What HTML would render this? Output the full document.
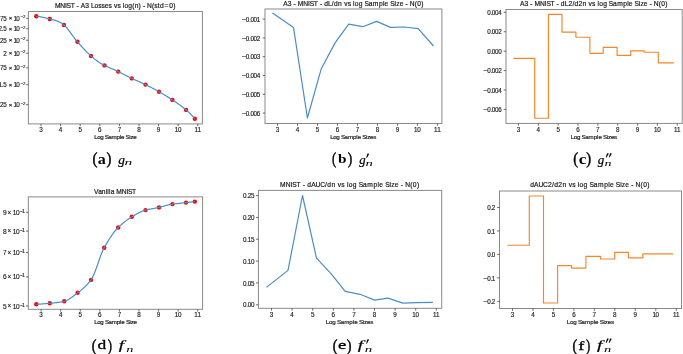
<!DOCTYPE html>
<html><head><meta charset="utf-8"><style>html,body{margin:0;padding:0;background:#fff;width:683px;height:354px;overflow:hidden}svg{display:block}text{font-family:"Liberation Sans",sans-serif;stroke:#1a1a1a;stroke-width:0.15px}.t{stroke-width:0.2px}.l{stroke-width:0.18px}</style></head><body><div style="will-change:transform;width:683px;height:354px">
<svg width="683" height="354" viewBox="0 0 683 354">
<rect width="683" height="354" fill="#fff"/>
<rect x="28.4" y="11.5" width="174.00" height="112.40" fill="none" stroke="#8a8a8a" stroke-width="1.0"/>
<line x1="41.00" y1="123.9" x2="41.00" y2="126.2" stroke="#444" stroke-width="0.8"/>
<text x="41.00" y="132.00" font-size="6.3" fill="#1a1a1a" text-anchor="middle">3</text>
<line x1="60.60" y1="123.9" x2="60.60" y2="126.2" stroke="#444" stroke-width="0.8"/>
<text x="60.60" y="132.00" font-size="6.3" fill="#1a1a1a" text-anchor="middle">4</text>
<line x1="80.20" y1="123.9" x2="80.20" y2="126.2" stroke="#444" stroke-width="0.8"/>
<text x="80.20" y="132.00" font-size="6.3" fill="#1a1a1a" text-anchor="middle">5</text>
<line x1="99.80" y1="123.9" x2="99.80" y2="126.2" stroke="#444" stroke-width="0.8"/>
<text x="99.80" y="132.00" font-size="6.3" fill="#1a1a1a" text-anchor="middle">6</text>
<line x1="119.40" y1="123.9" x2="119.40" y2="126.2" stroke="#444" stroke-width="0.8"/>
<text x="119.40" y="132.00" font-size="6.3" fill="#1a1a1a" text-anchor="middle">7</text>
<line x1="139.00" y1="123.9" x2="139.00" y2="126.2" stroke="#444" stroke-width="0.8"/>
<text x="139.00" y="132.00" font-size="6.3" fill="#1a1a1a" text-anchor="middle">8</text>
<line x1="158.60" y1="123.9" x2="158.60" y2="126.2" stroke="#444" stroke-width="0.8"/>
<text x="158.60" y="132.00" font-size="6.3" fill="#1a1a1a" text-anchor="middle">9</text>
<line x1="178.20" y1="123.9" x2="178.20" y2="126.2" stroke="#444" stroke-width="0.8"/>
<text x="176.62 179.77" y="132.00" font-size="6.3" fill="#1a1a1a" text-anchor="middle">10</text>
<line x1="197.80" y1="123.9" x2="197.80" y2="126.2" stroke="#444" stroke-width="0.8"/>
<text x="196.22 199.37" y="132.00" font-size="6.3" fill="#1a1a1a" text-anchor="middle">11</text>
<line x1="26.099999999999998" y1="18.30" x2="28.4" y2="18.30" stroke="#444" stroke-width="0.8"/>
<line x1="26.099999999999998" y1="28.74" x2="28.4" y2="28.74" stroke="#444" stroke-width="0.8"/>
<line x1="26.099999999999998" y1="40.29" x2="28.4" y2="40.29" stroke="#444" stroke-width="0.8"/>
<line x1="26.099999999999998" y1="53.20" x2="28.4" y2="53.20" stroke="#444" stroke-width="0.8"/>
<line x1="26.099999999999998" y1="67.84" x2="28.4" y2="67.84" stroke="#444" stroke-width="0.8"/>
<line x1="26.099999999999998" y1="84.73" x2="28.4" y2="84.73" stroke="#444" stroke-width="0.8"/>
<line x1="26.099999999999998" y1="104.71" x2="28.4" y2="104.71" stroke="#444" stroke-width="0.8"/>
<text x="-2.84 -0.51 1.83 4.95" y="20.75" font-size="6.3" fill="#1a1a1a" text-anchor="middle">2.75</text>
<text x="10.45" y="20.45" font-size="5.984999999999999" fill="#1a1a1a" text-anchor="middle">×</text>
<text x="15.37 17.92" y="20.75" font-size="6.3" fill="#1a1a1a" text-anchor="middle">10</text>
<text x="22.06 24.11" y="18.15" font-size="4.4" fill="#1a1a1a" text-anchor="middle">−2</text>
<text x="0.27 2.61 4.94" y="31.20" font-size="6.3" fill="#1a1a1a" text-anchor="middle">2.5</text>
<text x="10.45" y="30.90" font-size="5.984999999999999" fill="#1a1a1a" text-anchor="middle">×</text>
<text x="15.37 17.92" y="31.20" font-size="6.3" fill="#1a1a1a" text-anchor="middle">10</text>
<text x="22.06 24.11" y="28.60" font-size="4.4" fill="#1a1a1a" text-anchor="middle">−2</text>
<text x="-2.84 -0.51 1.83 4.95" y="42.75" font-size="6.3" fill="#1a1a1a" text-anchor="middle">2.25</text>
<text x="10.45" y="42.45" font-size="5.984999999999999" fill="#1a1a1a" text-anchor="middle">×</text>
<text x="15.37 17.92" y="42.75" font-size="6.3" fill="#1a1a1a" text-anchor="middle">10</text>
<text x="22.06 24.11" y="40.15" font-size="4.4" fill="#1a1a1a" text-anchor="middle">−2</text>
<text x="4.95" y="55.66" font-size="6.3" fill="#1a1a1a" text-anchor="middle">2</text>
<text x="10.45" y="55.36" font-size="5.984999999999999" fill="#1a1a1a" text-anchor="middle">×</text>
<text x="15.37 17.92" y="55.66" font-size="6.3" fill="#1a1a1a" text-anchor="middle">10</text>
<text x="22.06 24.11" y="53.06" font-size="4.4" fill="#1a1a1a" text-anchor="middle">−2</text>
<text x="-2.84 -0.51 1.83 4.95" y="70.29" font-size="6.3" fill="#1a1a1a" text-anchor="middle">1.75</text>
<text x="10.45" y="69.99" font-size="5.984999999999999" fill="#1a1a1a" text-anchor="middle">×</text>
<text x="15.37 17.92" y="70.29" font-size="6.3" fill="#1a1a1a" text-anchor="middle">10</text>
<text x="22.06 24.11" y="67.69" font-size="4.4" fill="#1a1a1a" text-anchor="middle">−2</text>
<text x="0.27 2.61 4.94" y="87.19" font-size="6.3" fill="#1a1a1a" text-anchor="middle">1.5</text>
<text x="10.45" y="86.89" font-size="5.984999999999999" fill="#1a1a1a" text-anchor="middle">×</text>
<text x="15.37 17.92" y="87.19" font-size="6.3" fill="#1a1a1a" text-anchor="middle">10</text>
<text x="22.06 24.11" y="84.59" font-size="4.4" fill="#1a1a1a" text-anchor="middle">−2</text>
<text x="-2.84 -0.51 1.83 4.95" y="107.17" font-size="6.3" fill="#1a1a1a" text-anchor="middle">1.25</text>
<text x="10.45" y="106.87" font-size="5.984999999999999" fill="#1a1a1a" text-anchor="middle">×</text>
<text x="15.37 17.92" y="107.17" font-size="6.3" fill="#1a1a1a" text-anchor="middle">10</text>
<text x="22.06 24.11" y="104.57" font-size="4.4" fill="#1a1a1a" text-anchor="middle">−2</text>
<circle cx="36.30" cy="16.20" r="2.2" fill="#ff0000"/>
<circle cx="49.80" cy="19.00" r="2.2" fill="#ff0000"/>
<circle cx="63.90" cy="24.90" r="2.2" fill="#ff0000"/>
<circle cx="77.40" cy="41.80" r="2.2" fill="#ff0000"/>
<circle cx="91.00" cy="56.00" r="2.2" fill="#ff0000"/>
<circle cx="104.50" cy="65.40" r="2.2" fill="#ff0000"/>
<circle cx="118.20" cy="71.60" r="2.2" fill="#ff0000"/>
<circle cx="131.80" cy="78.40" r="2.2" fill="#ff0000"/>
<circle cx="145.50" cy="84.60" r="2.2" fill="#ff0000"/>
<circle cx="159.00" cy="91.70" r="2.2" fill="#ff0000"/>
<circle cx="172.40" cy="99.90" r="2.2" fill="#ff0000"/>
<circle cx="186.10" cy="109.90" r="2.2" fill="#ff0000"/>
<circle cx="194.80" cy="118.80" r="2.2" fill="#ff0000"/>
<polyline points="36.30,16.20 36.62,16.23 36.94,16.27 37.25,16.31 37.57,16.35 37.89,16.39 38.21,16.44 38.52,16.48 38.84,16.53 39.16,16.59 39.48,16.64 39.79,16.69 40.11,16.75 40.43,16.81 40.75,16.87 41.06,16.93 41.38,16.99 41.70,17.06 42.02,17.13 42.34,17.19 42.65,17.26 42.97,17.33 43.29,17.40 43.61,17.48 43.92,17.55 44.24,17.62 44.56,17.70 44.88,17.77 45.19,17.85 45.51,17.93 45.83,18.01 46.15,18.08 46.46,18.16 46.78,18.24 47.10,18.32 47.42,18.40 47.73,18.48 48.05,18.56 48.37,18.64 48.69,18.72 49.01,18.80 49.32,18.88 49.64,18.96 49.96,19.04 50.28,19.12 50.59,19.20 50.91,19.27 51.23,19.35 51.55,19.43 51.86,19.50 52.18,19.58 52.50,19.66 52.82,19.74 53.13,19.82 53.45,19.90 53.77,19.98 54.09,20.06 54.41,20.15 54.72,20.24 55.04,20.33 55.36,20.42 55.68,20.52 55.99,20.62 56.31,20.73 56.63,20.84 56.95,20.95 57.26,21.06 57.58,21.18 57.90,21.31 58.22,21.44 58.53,21.58 58.85,21.72 59.17,21.87 59.49,22.02 59.81,22.18 60.12,22.34 60.44,22.52 60.76,22.70 61.08,22.88 61.39,23.08 61.71,23.28 62.03,23.49 62.35,23.71 62.66,23.93 62.98,24.17 63.30,24.41 63.62,24.67 63.93,24.93 64.25,25.20 64.57,25.49 64.89,25.79 65.20,26.11 65.52,26.44 65.84,26.78 66.16,27.13 66.48,27.48 66.79,27.85 67.11,28.23 67.43,28.62 67.75,29.02 68.06,29.42 68.38,29.83 68.70,30.24 69.02,30.67 69.33,31.09 69.65,31.52 69.97,31.96 70.29,32.40 70.60,32.84 70.92,33.28 71.24,33.72 71.56,34.17 71.88,34.61 72.19,35.06 72.51,35.50 72.83,35.95 73.15,36.39 73.46,36.83 73.78,37.26 74.10,37.69 74.42,38.12 74.73,38.54 75.05,38.96 75.37,39.37 75.69,39.77 76.00,40.16 76.32,40.55 76.64,40.93 76.96,41.30 77.27,41.66 77.59,42.01 77.91,42.36 78.23,42.72 78.55,43.07 78.86,43.42 79.18,43.77 79.50,44.13 79.82,44.48 80.13,44.83 80.45,45.18 80.77,45.53 81.09,45.89 81.40,46.24 81.72,46.59 82.04,46.93 82.36,47.28 82.67,47.63 82.99,47.97 83.31,48.32 83.63,48.66 83.95,49.00 84.26,49.34 84.58,49.68 84.90,50.02 85.22,50.35 85.53,50.69 85.85,51.02 86.17,51.34 86.49,51.67 86.80,51.99 87.12,52.32 87.44,52.63 87.76,52.95 88.07,53.26 88.39,53.57 88.71,53.88 89.03,54.19 89.35,54.49 89.66,54.78 89.98,55.08 90.30,55.37 90.62,55.66 90.93,55.94 91.25,56.22 91.57,56.50 91.89,56.77 92.20,57.05 92.52,57.32 92.84,57.58 93.16,57.85 93.47,58.11 93.79,58.37 94.11,58.63 94.43,58.88 94.74,59.14 95.06,59.38 95.38,59.63 95.70,59.87 96.02,60.12 96.33,60.35 96.65,60.59 96.97,60.82 97.29,61.05 97.60,61.28 97.92,61.50 98.24,61.72 98.56,61.94 98.87,62.15 99.19,62.36 99.51,62.57 99.83,62.77 100.14,62.97 100.46,63.17 100.78,63.37 101.10,63.56 101.42,63.75 101.73,63.93 102.05,64.11 102.37,64.29 102.69,64.47 103.00,64.64 103.32,64.81 103.64,64.97 103.96,65.13 104.27,65.29 104.59,65.44 104.91,65.60 105.23,65.75 105.54,65.90 105.86,66.04 106.18,66.19 106.50,66.34 106.82,66.48 107.13,66.63 107.45,66.77 107.77,66.91 108.09,67.05 108.40,67.19 108.72,67.33 109.04,67.47 109.36,67.61 109.67,67.75 109.99,67.89 110.31,68.03 110.63,68.17 110.94,68.31 111.26,68.44 111.58,68.58 111.90,68.72 112.21,68.86 112.53,69.00 112.85,69.14 113.17,69.28 113.49,69.42 113.80,69.56 114.12,69.70 114.44,69.84 114.76,69.98 115.07,70.13 115.39,70.27 115.71,70.42 116.03,70.56 116.34,70.71 116.66,70.86 116.98,71.01 117.30,71.16 117.61,71.31 117.93,71.47 118.25,71.62 118.57,71.78 118.89,71.94 119.20,72.10 119.52,72.25 119.84,72.41 120.16,72.57 120.47,72.73 120.79,72.89 121.11,73.05 121.43,73.21 121.74,73.37 122.06,73.53 122.38,73.69 122.70,73.85 123.01,74.01 123.33,74.17 123.65,74.33 123.97,74.50 124.28,74.66 124.60,74.82 124.92,74.98 125.24,75.14 125.56,75.30 125.87,75.46 126.19,75.62 126.51,75.78 126.83,75.94 127.14,76.10 127.46,76.26 127.78,76.42 128.10,76.58 128.41,76.74 128.73,76.90 129.05,77.05 129.37,77.21 129.68,77.37 130.00,77.52 130.32,77.68 130.64,77.84 130.96,77.99 131.27,78.15 131.59,78.30 131.91,78.45 132.23,78.60 132.54,78.75 132.86,78.90 133.18,79.05 133.50,79.20 133.81,79.35 134.13,79.49 134.45,79.64 134.77,79.78 135.08,79.93 135.40,80.07 135.72,80.21 136.04,80.35 136.36,80.49 136.67,80.63 136.99,80.77 137.31,80.91 137.63,81.05 137.94,81.19 138.26,81.33 138.58,81.47 138.90,81.61 139.21,81.75 139.53,81.89 139.85,82.03 140.17,82.17 140.48,82.31 140.80,82.45 141.12,82.59 141.44,82.73 141.75,82.87 142.07,83.02 142.39,83.16 142.71,83.30 143.03,83.45 143.34,83.59 143.66,83.74 143.98,83.88 144.30,84.03 144.61,84.18 144.93,84.33 145.25,84.48 145.57,84.63 145.88,84.78 146.20,84.94 146.52,85.09 146.84,85.25 147.15,85.40 147.47,85.56 147.79,85.72 148.11,85.88 148.43,86.04 148.74,86.20 149.06,86.36 149.38,86.52 149.70,86.68 150.01,86.85 150.33,87.01 150.65,87.17 150.97,87.34 151.28,87.51 151.60,87.67 151.92,87.84 152.24,88.01 152.55,88.18 152.87,88.35 153.19,88.51 153.51,88.68 153.83,88.86 154.14,89.03 154.46,89.20 154.78,89.37 155.10,89.54 155.41,89.72 155.73,89.89 156.05,90.06 156.37,90.24 156.68,90.41 157.00,90.59 157.32,90.76 157.64,90.94 157.95,91.12 158.27,91.29 158.59,91.47 158.91,91.65 159.22,91.83 159.54,92.00 159.86,92.19 160.18,92.37 160.50,92.55 160.81,92.73 161.13,92.92 161.45,93.10 161.77,93.29 162.08,93.48 162.40,93.66 162.72,93.85 163.04,94.04 163.35,94.23 163.67,94.43 163.99,94.62 164.31,94.81 164.62,95.00 164.94,95.20 165.26,95.39 165.58,95.59 165.90,95.79 166.21,95.98 166.53,96.18 166.85,96.38 167.17,96.58 167.48,96.78 167.80,96.98 168.12,97.18 168.44,97.38 168.75,97.58 169.07,97.78 169.39,97.98 169.71,98.18 170.02,98.38 170.34,98.59 170.66,98.79 170.98,98.99 171.29,99.19 171.61,99.40 171.93,99.60 172.25,99.80 172.57,100.01 172.88,100.21 173.20,100.42 173.52,100.62 173.84,100.83 174.15,101.04 174.47,101.25 174.79,101.47 175.11,101.68 175.42,101.90 175.74,102.11 176.06,102.33 176.38,102.55 176.69,102.77 177.01,102.99 177.33,103.22 177.65,103.44 177.97,103.67 178.28,103.90 178.60,104.13 178.92,104.36 179.24,104.59 179.55,104.82 179.87,105.06 180.19,105.29 180.51,105.53 180.82,105.77 181.14,106.01 181.46,106.25 181.78,106.49 182.09,106.73 182.41,106.98 182.73,107.22 183.05,107.47 183.37,107.72 183.68,107.97 184.00,108.22 184.32,108.47 184.64,108.72 184.95,108.97 185.27,109.23 185.59,109.49 185.91,109.74 186.22,110.00 186.54,110.27 186.86,110.54 187.18,110.81 187.49,111.09 187.81,111.38 188.13,111.67 188.45,111.97 188.76,112.28 189.08,112.58 189.40,112.90 189.72,113.21 190.04,113.54 190.35,113.86 190.67,114.19 190.99,114.53 191.31,114.87 191.62,115.21 191.94,115.55 192.26,115.90 192.58,116.26 192.89,116.61 193.21,116.97 193.53,117.33 193.85,117.70 194.16,118.06 194.48,118.43 194.80,118.80" fill="none" stroke="#4a8ec6" stroke-width="1.2" stroke-linejoin="round"/>
<text class="t" x="57.69 62.70 65.95 68.84 72.72 75.61 77.73 79.84 82.96 87.07 90.04 92.77 96.41 99.83 103.07 106.61 110.15 112.76 115.59 119.06 121.67 123.52 126.29 130.17 133.36 136.55 139.74 141.95 144.06 146.17 149.49 153.04 155.87 158.72 161.91 166.50 171.09 174.29" y="7.90" font-size="6.7" fill="#1a1a1a" text-anchor="middle">MNIST - A3 Losses vs log(n) - N(std=0)</text>
<text class="l" x="95.92 98.91 102.00 104.43 106.86 110.05 114.10 118.21 120.54 122.82 125.20 127.63 129.96 132.01 134.92" y="138.60" font-size="6.2" fill="#1a1a1a" text-anchor="middle">Log Sample Size</text>
<rect x="265" y="9.0" width="176.90" height="114.50" fill="none" stroke="#8a8a8a" stroke-width="1.0"/>
<line x1="277.50" y1="123.5" x2="277.50" y2="125.8" stroke="#444" stroke-width="0.8"/>
<text x="277.50" y="132.00" font-size="6.3" fill="#1a1a1a" text-anchor="middle">3</text>
<line x1="297.49" y1="123.5" x2="297.49" y2="125.8" stroke="#444" stroke-width="0.8"/>
<text x="297.49" y="132.00" font-size="6.3" fill="#1a1a1a" text-anchor="middle">4</text>
<line x1="317.48" y1="123.5" x2="317.48" y2="125.8" stroke="#444" stroke-width="0.8"/>
<text x="317.48" y="132.00" font-size="6.3" fill="#1a1a1a" text-anchor="middle">5</text>
<line x1="337.47" y1="123.5" x2="337.47" y2="125.8" stroke="#444" stroke-width="0.8"/>
<text x="337.47" y="132.00" font-size="6.3" fill="#1a1a1a" text-anchor="middle">6</text>
<line x1="357.46" y1="123.5" x2="357.46" y2="125.8" stroke="#444" stroke-width="0.8"/>
<text x="357.46" y="132.00" font-size="6.3" fill="#1a1a1a" text-anchor="middle">7</text>
<line x1="377.45" y1="123.5" x2="377.45" y2="125.8" stroke="#444" stroke-width="0.8"/>
<text x="377.45" y="132.00" font-size="6.3" fill="#1a1a1a" text-anchor="middle">8</text>
<line x1="397.44" y1="123.5" x2="397.44" y2="125.8" stroke="#444" stroke-width="0.8"/>
<text x="397.44" y="132.00" font-size="6.3" fill="#1a1a1a" text-anchor="middle">9</text>
<line x1="417.43" y1="123.5" x2="417.43" y2="125.8" stroke="#444" stroke-width="0.8"/>
<text x="415.85 419.00" y="132.00" font-size="6.3" fill="#1a1a1a" text-anchor="middle">10</text>
<line x1="437.42" y1="123.5" x2="437.42" y2="125.8" stroke="#444" stroke-width="0.8"/>
<text x="435.84 438.99" y="132.00" font-size="6.3" fill="#1a1a1a" text-anchor="middle">11</text>
<line x1="262.7" y1="19.10" x2="265" y2="19.10" stroke="#444" stroke-width="0.8"/>
<line x1="262.7" y1="37.90" x2="265" y2="37.90" stroke="#444" stroke-width="0.8"/>
<line x1="262.7" y1="56.70" x2="265" y2="56.70" stroke="#444" stroke-width="0.8"/>
<line x1="262.7" y1="75.50" x2="265" y2="75.50" stroke="#444" stroke-width="0.8"/>
<line x1="262.7" y1="94.30" x2="265" y2="94.30" stroke="#444" stroke-width="0.8"/>
<line x1="262.7" y1="113.10" x2="265" y2="113.10" stroke="#444" stroke-width="0.8"/>
<text transform="translate(244.26,21.76) scale(1.215,1)" x="0" y="0" font-size="6.3" fill="#1a1a1a" text-anchor="middle">−</text>
<text x="247.51 249.87 252.23 255.38 258.53" y="21.76" font-size="6.3" fill="#1a1a1a" text-anchor="middle">0.001</text>
<text transform="translate(244.26,40.56) scale(1.215,1)" x="0" y="0" font-size="6.3" fill="#1a1a1a" text-anchor="middle">−</text>
<text x="247.51 249.87 252.23 255.38 258.53" y="40.56" font-size="6.3" fill="#1a1a1a" text-anchor="middle">0.002</text>
<text transform="translate(244.26,59.36) scale(1.215,1)" x="0" y="0" font-size="6.3" fill="#1a1a1a" text-anchor="middle">−</text>
<text x="247.51 249.87 252.23 255.38 258.53" y="59.36" font-size="6.3" fill="#1a1a1a" text-anchor="middle">0.003</text>
<text transform="translate(244.26,78.16) scale(1.215,1)" x="0" y="0" font-size="6.3" fill="#1a1a1a" text-anchor="middle">−</text>
<text x="247.51 249.87 252.23 255.38 258.53" y="78.16" font-size="6.3" fill="#1a1a1a" text-anchor="middle">0.004</text>
<text transform="translate(244.26,96.96) scale(1.215,1)" x="0" y="0" font-size="6.3" fill="#1a1a1a" text-anchor="middle">−</text>
<text x="247.51 249.87 252.23 255.38 258.53" y="96.96" font-size="6.3" fill="#1a1a1a" text-anchor="middle">0.005</text>
<text transform="translate(244.26,115.76) scale(1.215,1)" x="0" y="0" font-size="6.3" fill="#1a1a1a" text-anchor="middle">−</text>
<text x="247.51 249.87 252.23 255.38 258.53" y="115.76" font-size="6.3" fill="#1a1a1a" text-anchor="middle">0.006</text>
<polyline points="272.50,13.10 293.50,27.40 307.40,118.00 321.30,68.70 334.90,43.10 348.70,24.20 362.80,26.70 376.70,21.40 390.40,27.40 404.30,27.00 418.20,28.60 433.50,46.00" fill="none" stroke="#4a8ec6" stroke-width="1.2" stroke-linejoin="round"/>
<text class="t" x="285.37 289.55 292.58 294.73 296.88 300.62 305.73 309.03 311.98 315.92 318.87 321.02 323.17 326.19 329.97 332.80 335.88 339.90 342.92 345.80 349.33 351.98 353.87 356.69 360.64 363.66 366.68 370.63 375.66 380.76 383.65 386.49 389.44 392.46 395.35 397.90 401.51 404.47 406.62 408.77 412.15 415.76 419.01 422.26" y="5.90" font-size="6.7" fill="#1a1a1a" text-anchor="middle">A3 - MNIST - dL/dn vs log Sample Size - N(0)</text>
<text class="l" x="331.86 334.91 338.08 340.56 343.05 346.31 350.46 354.66 357.05 359.38 361.82 364.31 366.69 368.79 371.77 374.74" y="138.50" font-size="6.2" fill="#1a1a1a" text-anchor="middle">Log Sample Sizes</text>
<rect x="506" y="9.5" width="176.20" height="113.90" fill="none" stroke="#8a8a8a" stroke-width="1.0"/>
<line x1="518.45" y1="123.4" x2="518.45" y2="125.7" stroke="#444" stroke-width="0.8"/>
<text x="518.45" y="132.00" font-size="6.3" fill="#1a1a1a" text-anchor="middle">3</text>
<line x1="538.30" y1="123.4" x2="538.30" y2="125.7" stroke="#444" stroke-width="0.8"/>
<text x="538.30" y="132.00" font-size="6.3" fill="#1a1a1a" text-anchor="middle">4</text>
<line x1="558.15" y1="123.4" x2="558.15" y2="125.7" stroke="#444" stroke-width="0.8"/>
<text x="558.15" y="132.00" font-size="6.3" fill="#1a1a1a" text-anchor="middle">5</text>
<line x1="578.00" y1="123.4" x2="578.00" y2="125.7" stroke="#444" stroke-width="0.8"/>
<text x="578.00" y="132.00" font-size="6.3" fill="#1a1a1a" text-anchor="middle">6</text>
<line x1="597.85" y1="123.4" x2="597.85" y2="125.7" stroke="#444" stroke-width="0.8"/>
<text x="597.85" y="132.00" font-size="6.3" fill="#1a1a1a" text-anchor="middle">7</text>
<line x1="617.70" y1="123.4" x2="617.70" y2="125.7" stroke="#444" stroke-width="0.8"/>
<text x="617.70" y="132.00" font-size="6.3" fill="#1a1a1a" text-anchor="middle">8</text>
<line x1="637.55" y1="123.4" x2="637.55" y2="125.7" stroke="#444" stroke-width="0.8"/>
<text x="637.55" y="132.00" font-size="6.3" fill="#1a1a1a" text-anchor="middle">9</text>
<line x1="657.40" y1="123.4" x2="657.40" y2="125.7" stroke="#444" stroke-width="0.8"/>
<text x="655.82 658.97" y="132.00" font-size="6.3" fill="#1a1a1a" text-anchor="middle">10</text>
<line x1="677.25" y1="123.4" x2="677.25" y2="125.7" stroke="#444" stroke-width="0.8"/>
<text x="675.67 678.82" y="132.00" font-size="6.3" fill="#1a1a1a" text-anchor="middle">11</text>
<line x1="503.7" y1="12.30" x2="506" y2="12.30" stroke="#444" stroke-width="0.8"/>
<line x1="503.7" y1="31.72" x2="506" y2="31.72" stroke="#444" stroke-width="0.8"/>
<line x1="503.7" y1="51.14" x2="506" y2="51.14" stroke="#444" stroke-width="0.8"/>
<line x1="503.7" y1="70.56" x2="506" y2="70.56" stroke="#444" stroke-width="0.8"/>
<line x1="503.7" y1="89.98" x2="506" y2="89.98" stroke="#444" stroke-width="0.8"/>
<line x1="503.7" y1="109.40" x2="506" y2="109.40" stroke="#444" stroke-width="0.8"/>
<text x="488.89 491.25 493.62 496.77 499.91" y="14.96" font-size="6.3" fill="#1a1a1a" text-anchor="middle">0.004</text>
<text x="488.89 491.25 493.62 496.77 499.91" y="34.38" font-size="6.3" fill="#1a1a1a" text-anchor="middle">0.002</text>
<text x="488.89 491.25 493.62 496.77 499.91" y="53.80" font-size="6.3" fill="#1a1a1a" text-anchor="middle">0.000</text>
<text transform="translate(485.66,73.22) scale(1.215,1)" x="0" y="0" font-size="6.3" fill="#1a1a1a" text-anchor="middle">−</text>
<text x="488.91 491.27 493.63 496.78 499.93" y="73.22" font-size="6.3" fill="#1a1a1a" text-anchor="middle">0.002</text>
<text transform="translate(485.66,92.64) scale(1.215,1)" x="0" y="0" font-size="6.3" fill="#1a1a1a" text-anchor="middle">−</text>
<text x="488.91 491.27 493.63 496.78 499.93" y="92.64" font-size="6.3" fill="#1a1a1a" text-anchor="middle">0.004</text>
<text transform="translate(485.66,112.06) scale(1.215,1)" x="0" y="0" font-size="6.3" fill="#1a1a1a" text-anchor="middle">−</text>
<text x="488.91 491.27 493.63 496.78 499.93" y="112.06" font-size="6.3" fill="#1a1a1a" text-anchor="middle">0.006</text>
<polyline points="513.50,58.40 534.70,58.40 534.70,118.20 548.40,118.20 548.40,14.30 562.00,14.30 562.00,32.10 575.90,32.10 575.90,37.20 589.90,37.20 589.90,53.30 603.20,53.30 603.20,47.40 617.10,47.40 617.10,55.40 630.70,55.40 630.70,50.80 644.20,50.80 644.20,52.20 658.30,52.20 658.30,62.90 673.90,62.90" fill="none" stroke="#f7862a" stroke-width="1.15" stroke-linejoin="round"/>
<text class="t" x="522.16 526.32 529.32 531.46 533.60 537.32 542.40 545.68 548.61 552.54 555.46 557.60 559.74 562.74 566.50 570.26 573.33 576.39 580.39 584.39 587.39 590.26 593.77 596.41 598.29 601.09 605.02 608.02 611.02 614.95 619.95 625.02 627.90 630.71 633.65 636.66 639.53 642.06 645.65 648.59 650.73 652.87 656.23 659.82 663.05 666.28" y="6.10" font-size="6.7" fill="#1a1a1a" text-anchor="middle">A3 - MNIST - dL2/d2n vs log Sample Size - N(0)</text>
<text class="l" x="572.37 575.45 578.64 581.15 583.66 586.95 591.14 595.38 597.78 600.14 602.60 605.11 607.51 609.63 612.63 615.63" y="138.70" font-size="6.2" fill="#1a1a1a" text-anchor="middle">Log Sample Sizes</text>
<rect x="28.3" y="196.9" width="174.30" height="112.40" fill="none" stroke="#8a8a8a" stroke-width="1.0"/>
<line x1="41.10" y1="309.3" x2="41.10" y2="311.6" stroke="#444" stroke-width="0.8"/>
<text x="41.10" y="317.00" font-size="6.3" fill="#1a1a1a" text-anchor="middle">3</text>
<line x1="60.67" y1="309.3" x2="60.67" y2="311.6" stroke="#444" stroke-width="0.8"/>
<text x="60.68" y="317.00" font-size="6.3" fill="#1a1a1a" text-anchor="middle">4</text>
<line x1="80.25" y1="309.3" x2="80.25" y2="311.6" stroke="#444" stroke-width="0.8"/>
<text x="80.25" y="317.00" font-size="6.3" fill="#1a1a1a" text-anchor="middle">5</text>
<line x1="99.82" y1="309.3" x2="99.82" y2="311.6" stroke="#444" stroke-width="0.8"/>
<text x="99.83" y="317.00" font-size="6.3" fill="#1a1a1a" text-anchor="middle">6</text>
<line x1="119.40" y1="309.3" x2="119.40" y2="311.6" stroke="#444" stroke-width="0.8"/>
<text x="119.40" y="317.00" font-size="6.3" fill="#1a1a1a" text-anchor="middle">7</text>
<line x1="138.97" y1="309.3" x2="138.97" y2="311.6" stroke="#444" stroke-width="0.8"/>
<text x="138.98" y="317.00" font-size="6.3" fill="#1a1a1a" text-anchor="middle">8</text>
<line x1="158.55" y1="309.3" x2="158.55" y2="311.6" stroke="#444" stroke-width="0.8"/>
<text x="158.55" y="317.00" font-size="6.3" fill="#1a1a1a" text-anchor="middle">9</text>
<line x1="178.12" y1="309.3" x2="178.12" y2="311.6" stroke="#444" stroke-width="0.8"/>
<text x="176.54 179.69" y="317.00" font-size="6.3" fill="#1a1a1a" text-anchor="middle">10</text>
<line x1="197.70" y1="309.3" x2="197.70" y2="311.6" stroke="#444" stroke-width="0.8"/>
<text x="196.12 199.27" y="317.00" font-size="6.3" fill="#1a1a1a" text-anchor="middle">11</text>
<line x1="26.0" y1="212.30" x2="28.3" y2="212.30" stroke="#444" stroke-width="0.8"/>
<line x1="26.0" y1="231.07" x2="28.3" y2="231.07" stroke="#444" stroke-width="0.8"/>
<line x1="26.0" y1="252.36" x2="28.3" y2="252.36" stroke="#444" stroke-width="0.8"/>
<line x1="26.0" y1="276.93" x2="28.3" y2="276.93" stroke="#444" stroke-width="0.8"/>
<line x1="26.0" y1="305.99" x2="28.3" y2="305.99" stroke="#444" stroke-width="0.8"/>
<text x="4.93" y="214.86" font-size="6.6" fill="#1a1a1a" text-anchor="middle">9</text>
<text x="9.45" y="214.56" font-size="6.27" fill="#1a1a1a" text-anchor="middle">×</text>
<text x="14.47 17.82" y="214.86" font-size="6.6" fill="#1a1a1a" text-anchor="middle">10</text>
<text x="21.49 23.59" y="212.86" font-size="4.5" fill="#1a1a1a" text-anchor="middle">−1</text>
<text x="4.93" y="233.64" font-size="6.6" fill="#1a1a1a" text-anchor="middle">8</text>
<text x="9.45" y="233.34" font-size="6.27" fill="#1a1a1a" text-anchor="middle">×</text>
<text x="14.47 17.82" y="233.64" font-size="6.6" fill="#1a1a1a" text-anchor="middle">10</text>
<text x="21.49 23.59" y="231.64" font-size="4.5" fill="#1a1a1a" text-anchor="middle">−1</text>
<text x="4.93" y="254.92" font-size="6.6" fill="#1a1a1a" text-anchor="middle">7</text>
<text x="9.45" y="254.62" font-size="6.27" fill="#1a1a1a" text-anchor="middle">×</text>
<text x="14.47 17.82" y="254.92" font-size="6.6" fill="#1a1a1a" text-anchor="middle">10</text>
<text x="21.49 23.59" y="252.92" font-size="4.5" fill="#1a1a1a" text-anchor="middle">−1</text>
<text x="4.93" y="279.49" font-size="6.6" fill="#1a1a1a" text-anchor="middle">6</text>
<text x="9.45" y="279.19" font-size="6.27" fill="#1a1a1a" text-anchor="middle">×</text>
<text x="14.47 17.82" y="279.49" font-size="6.6" fill="#1a1a1a" text-anchor="middle">10</text>
<text x="21.49 23.59" y="277.49" font-size="4.5" fill="#1a1a1a" text-anchor="middle">−1</text>
<text x="4.93" y="308.56" font-size="6.6" fill="#1a1a1a" text-anchor="middle">5</text>
<text x="9.45" y="308.26" font-size="6.27" fill="#1a1a1a" text-anchor="middle">×</text>
<text x="14.47 17.82" y="308.56" font-size="6.6" fill="#1a1a1a" text-anchor="middle">10</text>
<text x="21.49 23.59" y="306.56" font-size="4.5" fill="#1a1a1a" text-anchor="middle">−1</text>
<circle cx="36.30" cy="304.30" r="2.2" fill="#ff0000"/>
<circle cx="49.80" cy="303.30" r="2.2" fill="#ff0000"/>
<circle cx="64.20" cy="301.30" r="2.2" fill="#ff0000"/>
<circle cx="77.60" cy="292.80" r="2.2" fill="#ff0000"/>
<circle cx="91.00" cy="279.90" r="2.2" fill="#ff0000"/>
<circle cx="104.20" cy="247.70" r="2.2" fill="#ff0000"/>
<circle cx="118.20" cy="227.50" r="2.2" fill="#ff0000"/>
<circle cx="131.80" cy="216.80" r="2.2" fill="#ff0000"/>
<circle cx="145.50" cy="210.10" r="2.2" fill="#ff0000"/>
<circle cx="159.00" cy="207.40" r="2.2" fill="#ff0000"/>
<circle cx="172.40" cy="204.10" r="2.2" fill="#ff0000"/>
<circle cx="186.00" cy="202.60" r="2.2" fill="#ff0000"/>
<circle cx="194.80" cy="201.60" r="2.2" fill="#ff0000"/>
<polyline points="36.30,304.30 36.62,304.29 36.94,304.27 37.25,304.26 37.57,304.24 37.89,304.22 38.21,304.21 38.52,304.19 38.84,304.17 39.16,304.15 39.48,304.13 39.79,304.11 40.11,304.09 40.43,304.07 40.75,304.04 41.06,304.02 41.38,304.00 41.70,303.97 42.02,303.95 42.34,303.92 42.65,303.90 42.97,303.87 43.29,303.85 43.61,303.82 43.92,303.80 44.24,303.77 44.56,303.74 44.88,303.72 45.19,303.69 45.51,303.66 45.83,303.64 46.15,303.61 46.46,303.58 46.78,303.55 47.10,303.53 47.42,303.50 47.73,303.47 48.05,303.45 48.37,303.42 48.69,303.39 49.01,303.37 49.32,303.34 49.64,303.31 49.96,303.29 50.28,303.26 50.59,303.23 50.91,303.21 51.23,303.18 51.55,303.15 51.86,303.12 52.18,303.09 52.50,303.06 52.82,303.03 53.13,303.00 53.45,302.97 53.77,302.93 54.09,302.90 54.41,302.86 54.72,302.83 55.04,302.79 55.36,302.76 55.68,302.72 55.99,302.68 56.31,302.64 56.63,302.60 56.95,302.56 57.26,302.51 57.58,302.47 57.90,302.43 58.22,302.38 58.53,302.33 58.85,302.29 59.17,302.24 59.49,302.19 59.81,302.14 60.12,302.08 60.44,302.03 60.76,301.98 61.08,301.92 61.39,301.86 61.71,301.81 62.03,301.75 62.35,301.68 62.66,301.62 62.98,301.56 63.30,301.49 63.62,301.43 63.93,301.36 64.25,301.29 64.57,301.21 64.89,301.12 65.20,301.02 65.52,300.92 65.84,300.80 66.16,300.67 66.48,300.53 66.79,300.39 67.11,300.23 67.43,300.07 67.75,299.90 68.06,299.72 68.38,299.54 68.70,299.35 69.02,299.15 69.33,298.95 69.65,298.74 69.97,298.53 70.29,298.31 70.60,298.09 70.92,297.87 71.24,297.64 71.56,297.40 71.88,297.17 72.19,296.93 72.51,296.69 72.83,296.44 73.15,296.20 73.46,295.95 73.78,295.71 74.10,295.46 74.42,295.21 74.73,294.96 75.05,294.72 75.37,294.47 75.69,294.23 76.00,293.98 76.32,293.74 76.64,293.50 76.96,293.27 77.27,293.03 77.59,292.81 77.91,292.58 78.23,292.35 78.55,292.11 78.86,291.88 79.18,291.64 79.50,291.40 79.82,291.16 80.13,290.91 80.45,290.66 80.77,290.41 81.09,290.16 81.40,289.90 81.72,289.64 82.04,289.37 82.36,289.11 82.67,288.83 82.99,288.56 83.31,288.28 83.63,287.99 83.95,287.70 84.26,287.41 84.58,287.11 84.90,286.81 85.22,286.50 85.53,286.19 85.85,285.87 86.17,285.55 86.49,285.22 86.80,284.89 87.12,284.55 87.44,284.20 87.76,283.85 88.07,283.49 88.39,283.13 88.71,282.76 89.03,282.38 89.35,282.00 89.66,281.61 89.98,281.22 90.30,280.82 90.62,280.41 90.93,279.99 91.25,279.55 91.57,279.08 91.89,278.56 92.20,278.00 92.52,277.40 92.84,276.77 93.16,276.11 93.47,275.42 93.79,274.70 94.11,273.95 94.43,273.17 94.74,272.37 95.06,271.55 95.38,270.72 95.70,269.86 96.02,268.99 96.33,268.11 96.65,267.21 96.97,266.31 97.29,265.40 97.60,264.48 97.92,263.56 98.24,262.64 98.56,261.72 98.87,260.81 99.19,259.90 99.51,258.99 99.83,258.09 100.14,257.21 100.46,256.34 100.78,255.48 101.10,254.63 101.42,253.81 101.73,253.01 102.05,252.23 102.37,251.47 102.69,250.75 103.00,250.05 103.32,249.38 103.64,248.74 103.96,248.14 104.27,247.57 104.59,247.02 104.91,246.46 105.23,245.91 105.54,245.36 105.86,244.82 106.18,244.27 106.50,243.73 106.82,243.20 107.13,242.66 107.45,242.13 107.77,241.60 108.09,241.08 108.40,240.56 108.72,240.04 109.04,239.53 109.36,239.02 109.67,238.52 109.99,238.02 110.31,237.53 110.63,237.04 110.94,236.56 111.26,236.09 111.58,235.62 111.90,235.15 112.21,234.70 112.53,234.24 112.85,233.80 113.17,233.36 113.49,232.93 113.80,232.51 114.12,232.09 114.44,231.68 114.76,231.28 115.07,230.89 115.39,230.51 115.71,230.13 116.03,229.77 116.34,229.41 116.66,229.06 116.98,228.72 117.30,228.39 117.61,228.07 117.93,227.75 118.25,227.45 118.57,227.16 118.89,226.86 119.20,226.57 119.52,226.27 119.84,225.98 120.16,225.70 120.47,225.41 120.79,225.12 121.11,224.84 121.43,224.56 121.74,224.28 122.06,224.00 122.38,223.73 122.70,223.45 123.01,223.18 123.33,222.91 123.65,222.65 123.97,222.38 124.28,222.12 124.60,221.86 124.92,221.61 125.24,221.35 125.56,221.10 125.87,220.85 126.19,220.61 126.51,220.37 126.83,220.13 127.14,219.89 127.46,219.66 127.78,219.42 128.10,219.20 128.41,218.97 128.73,218.75 129.05,218.54 129.37,218.32 129.68,218.11 130.00,217.90 130.32,217.70 130.64,217.50 130.96,217.30 131.27,217.11 131.59,216.92 131.91,216.74 132.23,216.55 132.54,216.37 132.86,216.18 133.18,215.99 133.50,215.81 133.81,215.62 134.13,215.43 134.45,215.24 134.77,215.06 135.08,214.87 135.40,214.69 135.72,214.50 136.04,214.32 136.36,214.13 136.67,213.95 136.99,213.77 137.31,213.60 137.63,213.42 137.94,213.25 138.26,213.07 138.58,212.90 138.90,212.74 139.21,212.57 139.53,212.41 139.85,212.25 140.17,212.10 140.48,211.94 140.80,211.79 141.12,211.65 141.44,211.51 141.75,211.37 142.07,211.24 142.39,211.11 142.71,210.98 143.03,210.86 143.34,210.75 143.66,210.64 143.98,210.53 144.30,210.43 144.61,210.33 144.93,210.25 145.25,210.16 145.57,210.08 145.88,210.01 146.20,209.94 146.52,209.86 146.84,209.79 147.15,209.73 147.47,209.66 147.79,209.59 148.11,209.53 148.43,209.46 148.74,209.40 149.06,209.33 149.38,209.27 149.70,209.21 150.01,209.15 150.33,209.09 150.65,209.03 150.97,208.97 151.28,208.91 151.60,208.86 151.92,208.80 152.24,208.74 152.55,208.68 152.87,208.62 153.19,208.57 153.51,208.51 153.83,208.45 154.14,208.39 154.46,208.33 154.78,208.27 155.10,208.21 155.41,208.15 155.73,208.09 156.05,208.03 156.37,207.96 156.68,207.90 157.00,207.84 157.32,207.77 157.64,207.70 157.95,207.63 158.27,207.56 158.59,207.49 158.91,207.42 159.22,207.35 159.54,207.27 159.86,207.19 160.18,207.11 160.50,207.03 160.81,206.95 161.13,206.86 161.45,206.77 161.77,206.69 162.08,206.60 162.40,206.51 162.72,206.42 163.04,206.33 163.35,206.24 163.67,206.14 163.99,206.05 164.31,205.96 164.62,205.87 164.94,205.78 165.26,205.69 165.58,205.60 165.90,205.51 166.21,205.42 166.53,205.33 166.85,205.25 167.17,205.16 167.48,205.08 167.80,205.00 168.12,204.92 168.44,204.84 168.75,204.76 169.07,204.69 169.39,204.62 169.71,204.55 170.02,204.49 170.34,204.42 170.66,204.36 170.98,204.31 171.29,204.26 171.61,204.21 171.93,204.16 172.25,204.12 172.57,204.08 172.88,204.04 173.20,204.01 173.52,203.97 173.84,203.93 174.15,203.90 174.47,203.86 174.79,203.82 175.11,203.79 175.42,203.75 175.74,203.72 176.06,203.68 176.38,203.65 176.69,203.61 177.01,203.58 177.33,203.54 177.65,203.51 177.97,203.47 178.28,203.44 178.60,203.40 178.92,203.37 179.24,203.34 179.55,203.30 179.87,203.27 180.19,203.23 180.51,203.20 180.82,203.17 181.14,203.13 181.46,203.10 181.78,203.06 182.09,203.03 182.41,203.00 182.73,202.96 183.05,202.93 183.37,202.89 183.68,202.86 184.00,202.82 184.32,202.79 184.64,202.75 184.95,202.72 185.27,202.68 185.59,202.65 185.91,202.61 186.22,202.57 186.54,202.54 186.86,202.50 187.18,202.47 187.49,202.43 187.81,202.39 188.13,202.36 188.45,202.32 188.76,202.29 189.08,202.25 189.40,202.22 189.72,202.18 190.04,202.14 190.35,202.11 190.67,202.07 190.99,202.04 191.31,202.00 191.62,201.96 191.94,201.93 192.26,201.89 192.58,201.85 192.89,201.82 193.21,201.78 193.53,201.75 193.85,201.71 194.16,201.67 194.48,201.64 194.80,201.60" fill="none" stroke="#4a8ec6" stroke-width="1.2" stroke-linejoin="round"/>
<text class="t" x="96.13 100.15 103.55 106.38 108.10 109.83 112.60 115.49 119.16 124.16 127.40 130.29 134.16" y="193.90" font-size="6.7" fill="#1a1a1a" text-anchor="middle">Vanilla MNIST</text>
<text class="l" x="95.94 98.95 102.07 104.53 106.98 110.20 114.29 118.44 120.79 123.09 125.49 127.95 130.30 132.37 135.31" y="324.30" font-size="6.2" fill="#1a1a1a" text-anchor="middle">Log Sample Size</text>
<rect x="258.4" y="190.4" width="183.30" height="117.90" fill="none" stroke="#8a8a8a" stroke-width="1.0"/>
<line x1="271.50" y1="308.3" x2="271.50" y2="310.6" stroke="#444" stroke-width="0.8"/>
<text x="271.50" y="317.00" font-size="6.3" fill="#1a1a1a" text-anchor="middle">3</text>
<line x1="292.10" y1="308.3" x2="292.10" y2="310.6" stroke="#444" stroke-width="0.8"/>
<text x="292.10" y="317.00" font-size="6.3" fill="#1a1a1a" text-anchor="middle">4</text>
<line x1="312.70" y1="308.3" x2="312.70" y2="310.6" stroke="#444" stroke-width="0.8"/>
<text x="312.70" y="317.00" font-size="6.3" fill="#1a1a1a" text-anchor="middle">5</text>
<line x1="333.30" y1="308.3" x2="333.30" y2="310.6" stroke="#444" stroke-width="0.8"/>
<text x="333.30" y="317.00" font-size="6.3" fill="#1a1a1a" text-anchor="middle">6</text>
<line x1="353.90" y1="308.3" x2="353.90" y2="310.6" stroke="#444" stroke-width="0.8"/>
<text x="353.90" y="317.00" font-size="6.3" fill="#1a1a1a" text-anchor="middle">7</text>
<line x1="374.50" y1="308.3" x2="374.50" y2="310.6" stroke="#444" stroke-width="0.8"/>
<text x="374.50" y="317.00" font-size="6.3" fill="#1a1a1a" text-anchor="middle">8</text>
<line x1="395.10" y1="308.3" x2="395.10" y2="310.6" stroke="#444" stroke-width="0.8"/>
<text x="395.10" y="317.00" font-size="6.3" fill="#1a1a1a" text-anchor="middle">9</text>
<line x1="415.70" y1="308.3" x2="415.70" y2="310.6" stroke="#444" stroke-width="0.8"/>
<text x="414.12 417.27" y="317.00" font-size="6.3" fill="#1a1a1a" text-anchor="middle">10</text>
<line x1="436.30" y1="308.3" x2="436.30" y2="310.6" stroke="#444" stroke-width="0.8"/>
<text x="434.72 437.87" y="317.00" font-size="6.3" fill="#1a1a1a" text-anchor="middle">11</text>
<line x1="256.09999999999997" y1="195.60" x2="258.4" y2="195.60" stroke="#444" stroke-width="0.8"/>
<line x1="256.09999999999997" y1="217.44" x2="258.4" y2="217.44" stroke="#444" stroke-width="0.8"/>
<line x1="256.09999999999997" y1="239.28" x2="258.4" y2="239.28" stroke="#444" stroke-width="0.8"/>
<line x1="256.09999999999997" y1="261.12" x2="258.4" y2="261.12" stroke="#444" stroke-width="0.8"/>
<line x1="256.09999999999997" y1="282.96" x2="258.4" y2="282.96" stroke="#444" stroke-width="0.8"/>
<line x1="256.09999999999997" y1="304.80" x2="258.4" y2="304.80" stroke="#444" stroke-width="0.8"/>
<text x="244.86 247.22 249.58 252.73" y="198.26" font-size="6.3" fill="#1a1a1a" text-anchor="middle">0.25</text>
<text x="244.86 247.22 249.58 252.73" y="220.10" font-size="6.3" fill="#1a1a1a" text-anchor="middle">0.20</text>
<text x="244.86 247.22 249.58 252.73" y="241.94" font-size="6.3" fill="#1a1a1a" text-anchor="middle">0.15</text>
<text x="244.86 247.22 249.58 252.73" y="263.78" font-size="6.3" fill="#1a1a1a" text-anchor="middle">0.10</text>
<text x="244.86 247.22 249.58 252.73" y="285.62" font-size="6.3" fill="#1a1a1a" text-anchor="middle">0.05</text>
<text x="244.86 247.22 249.58 252.73" y="307.46" font-size="6.3" fill="#1a1a1a" text-anchor="middle">0.00</text>
<polyline points="266.40,287.40 288.00,270.40 302.50,195.50 316.50,258.20 331.00,273.60 345.20,291.30 360.10,294.30 374.60,300.10 388.10,298.10 402.90,303.10 416.50,302.70 432.90,302.30" fill="none" stroke="#4a8ec6" stroke-width="1.2" stroke-linejoin="round"/>
<text class="t" x="282.81 288.06 291.46 294.49 298.55 301.57 303.79 306.00 309.10 313.40 318.01 322.67 326.05 329.21 333.35 336.45 339.41 343.04 345.77 347.71 350.61 354.67 357.78 360.88 364.95 370.12 375.36 378.33 381.24 384.28 387.39 390.36 392.98 396.69 399.73 401.95 404.16 407.63 411.34 414.68 418.03" y="187.00" font-size="6.7" fill="#1a1a1a" text-anchor="middle">MNIST - dAUC/dn vs log Sample Size - N(0)</text>
<text class="l" x="327.50 330.66 333.93 336.50 339.07 342.44 346.72 351.06 353.52 355.93 358.45 361.02 363.49 365.65 368.73 371.79" y="323.90" font-size="6.2" fill="#1a1a1a" text-anchor="middle">Log Sample Sizes</text>
<rect x="499.5" y="191.0" width="182.00" height="117.50" fill="none" stroke="#8a8a8a" stroke-width="1.0"/>
<line x1="512.50" y1="308.5" x2="512.50" y2="310.8" stroke="#444" stroke-width="0.8"/>
<text x="512.50" y="317.00" font-size="6.3" fill="#1a1a1a" text-anchor="middle">3</text>
<line x1="532.97" y1="308.5" x2="532.97" y2="310.8" stroke="#444" stroke-width="0.8"/>
<text x="532.97" y="317.00" font-size="6.3" fill="#1a1a1a" text-anchor="middle">4</text>
<line x1="553.44" y1="308.5" x2="553.44" y2="310.8" stroke="#444" stroke-width="0.8"/>
<text x="553.44" y="317.00" font-size="6.3" fill="#1a1a1a" text-anchor="middle">5</text>
<line x1="573.91" y1="308.5" x2="573.91" y2="310.8" stroke="#444" stroke-width="0.8"/>
<text x="573.91" y="317.00" font-size="6.3" fill="#1a1a1a" text-anchor="middle">6</text>
<line x1="594.38" y1="308.5" x2="594.38" y2="310.8" stroke="#444" stroke-width="0.8"/>
<text x="594.38" y="317.00" font-size="6.3" fill="#1a1a1a" text-anchor="middle">7</text>
<line x1="614.85" y1="308.5" x2="614.85" y2="310.8" stroke="#444" stroke-width="0.8"/>
<text x="614.85" y="317.00" font-size="6.3" fill="#1a1a1a" text-anchor="middle">8</text>
<line x1="635.32" y1="308.5" x2="635.32" y2="310.8" stroke="#444" stroke-width="0.8"/>
<text x="635.32" y="317.00" font-size="6.3" fill="#1a1a1a" text-anchor="middle">9</text>
<line x1="655.79" y1="308.5" x2="655.79" y2="310.8" stroke="#444" stroke-width="0.8"/>
<text x="654.21 657.36" y="317.00" font-size="6.3" fill="#1a1a1a" text-anchor="middle">10</text>
<line x1="676.26" y1="308.5" x2="676.26" y2="310.8" stroke="#444" stroke-width="0.8"/>
<text x="674.68 677.83" y="317.00" font-size="6.3" fill="#1a1a1a" text-anchor="middle">11</text>
<line x1="497.2" y1="207.50" x2="499.5" y2="207.50" stroke="#444" stroke-width="0.8"/>
<line x1="497.2" y1="230.95" x2="499.5" y2="230.95" stroke="#444" stroke-width="0.8"/>
<line x1="497.2" y1="254.40" x2="499.5" y2="254.40" stroke="#444" stroke-width="0.8"/>
<line x1="497.2" y1="277.85" x2="499.5" y2="277.85" stroke="#444" stroke-width="0.8"/>
<line x1="497.2" y1="301.30" x2="499.5" y2="301.30" stroke="#444" stroke-width="0.8"/>
<text x="488.90 491.27 493.63" y="210.16" font-size="6.3" fill="#1a1a1a" text-anchor="middle">0.2</text>
<text x="488.90 491.27 493.63" y="233.61" font-size="6.3" fill="#1a1a1a" text-anchor="middle">0.1</text>
<text x="488.90 491.27 493.63" y="257.06" font-size="6.3" fill="#1a1a1a" text-anchor="middle">0.0</text>
<text transform="translate(485.65,280.51) scale(1.215,1)" x="0" y="0" font-size="6.3" fill="#1a1a1a" text-anchor="middle">−</text>
<text x="488.89 491.26 493.62" y="280.51" font-size="6.3" fill="#1a1a1a" text-anchor="middle">0.1</text>
<text transform="translate(485.65,303.96) scale(1.215,1)" x="0" y="0" font-size="6.3" fill="#1a1a1a" text-anchor="middle">−</text>
<text x="488.89 491.26 493.62" y="303.96" font-size="6.3" fill="#1a1a1a" text-anchor="middle">0.2</text>
<polyline points="507.30,245.20 529.30,245.20 529.30,196.00 543.50,196.00 543.50,303.00 557.60,303.00 557.60,265.60 571.60,265.60 571.60,268.10 585.90,268.10 585.90,256.40 600.50,256.40 600.50,259.00 614.70,259.00 614.70,252.30 628.40,252.30 628.40,257.80 642.80,257.80 642.80,253.80 673.00,253.80" fill="none" stroke="#f7862a" stroke-width="1.15" stroke-linejoin="round"/>
<text class="t" x="532.05 536.31 540.89 545.52 549.83 552.97 556.12 560.22 564.33 567.41 570.35 573.94 576.66 578.58 581.46 585.49 588.57 591.64 595.68 600.81 606.01 608.96 611.84 614.86 617.94 620.89 623.48 627.17 630.19 632.38 634.57 638.02 641.70 645.02 648.33" y="187.30" font-size="6.7" fill="#1a1a1a" text-anchor="middle">dAUC2/d2n vs log Sample Size - N(0)</text>
<text class="l" x="568.49 571.63 574.88 577.43 579.99 583.33 587.59 591.90 594.35 596.74 599.25 601.80 604.25 606.40 609.46 612.50" y="323.80" font-size="6.2" fill="#1a1a1a" text-anchor="middle">Log Sample Sizes</text>
<text transform="translate(92.53,164.20) scale(0.916,1)" x="0" y="0" font-size="16.26" fill="#000" style="font-family:'Liberation Serif';stroke:#000;stroke-width:0.45px">(</text>
<text transform="translate(97.82,163.56) scale(1.185,1)" x="0" y="0" font-size="13.54" fill="#000" style="font-family:'Liberation Serif';font-weight:bold;stroke:none">a</text>
<text transform="translate(106.56,164.25) scale(0.889,1)" x="0" y="0" font-size="16.44" fill="#000" style="font-family:'Liberation Serif';stroke:#000;stroke-width:0.45px">)</text>
<text transform="translate(118.30,163.97) scale(1.055,1)" x="0" y="0" font-size="12.70" fill="#000" style="font-family:'Liberation Serif';font-style:italic;stroke:#000;stroke-width:0.2px">g</text>
<text transform="translate(124.56,165.40) scale(1.973,1)" x="0" y="0" font-size="7.87" fill="#000" style="font-family:'Liberation Serif';font-style:italic;stroke:#000;stroke-width:0.0px">n</text>
<text transform="translate(332.04,164.20) scale(0.772,1)" x="0" y="0" font-size="16.26" fill="#000" style="font-family:'Liberation Serif';stroke:#000;stroke-width:0.45px">(</text>
<text transform="translate(338.07,163.37) scale(1.180,1)" x="0" y="0" font-size="13.05" fill="#000" style="font-family:'Liberation Serif';font-weight:bold;stroke:none">b</text>
<text transform="translate(347.80,164.25) scale(0.819,1)" x="0" y="0" font-size="16.44" fill="#000" style="font-family:'Liberation Serif';stroke:#000;stroke-width:0.45px">)</text>
<text transform="translate(359.20,163.97) scale(1.005,1)" x="0" y="0" font-size="12.70" fill="#000" style="font-family:'Liberation Serif';font-style:italic;stroke:#000;stroke-width:0.2px">g</text>
<text transform="translate(365.58,166.10) scale(1.883,1)" x="0" y="0" font-size="7.87" fill="#000" style="font-family:'Liberation Serif';font-style:italic;stroke:#000;stroke-width:0.0px">n</text>
<path d="M367.50,153.50 L369.30,153.70 L366.90,157.90 L366.20,157.60 Z" fill="#000"/>
<text transform="translate(573.23,164.27) scale(0.935,1)" x="0" y="0" font-size="15.93" fill="#000" style="font-family:'Liberation Serif';stroke:#000;stroke-width:0.45px">(</text>
<text transform="translate(578.70,163.56) scale(1.266,1)" x="0" y="0" font-size="13.54" fill="#000" style="font-family:'Liberation Serif';font-weight:bold;stroke:none">c</text>
<text transform="translate(586.16,164.32) scale(0.907,1)" x="0" y="0" font-size="16.11" fill="#000" style="font-family:'Liberation Serif';stroke:#000;stroke-width:0.45px">)</text>
<text transform="translate(597.70,163.97) scale(1.022,1)" x="0" y="0" font-size="12.70" fill="#000" style="font-family:'Liberation Serif';font-style:italic;stroke:#000;stroke-width:0.2px">g</text>
<text transform="translate(604.61,166.10) scale(1.793,1)" x="0" y="0" font-size="7.87" fill="#000" style="font-family:'Liberation Serif';font-style:italic;stroke:#000;stroke-width:0.0px">n</text>
<path d="M607.10,153.20 L608.90,153.40 L606.50,157.60 L605.80,157.30 Z" fill="#000"/>
<path d="M610.10,153.20 L611.90,153.40 L609.50,157.60 L608.80,157.30 Z" fill="#000"/>
<text transform="translate(91.76,350.50) scale(0.868,1)" x="0" y="0" font-size="16.26" fill="#000" style="font-family:'Liberation Serif';stroke:#000;stroke-width:0.45px">(</text>
<text transform="translate(97.39,349.47) scale(1.331,1)" x="0" y="0" font-size="13.05" fill="#000" style="font-family:'Liberation Serif';stroke:#000;stroke-width:0.3px">d</text>
<text transform="translate(107.82,350.55) scale(0.772,1)" x="0" y="0" font-size="16.44" fill="#000" style="font-family:'Liberation Serif';stroke:#000;stroke-width:0.45px">)</text>
<text transform="translate(118.71,349.15) scale(1.449,1)" x="0" y="0" font-size="13.26" fill="#000" style="font-family:'Liberation Serif';font-style:italic;stroke:#000;stroke-width:0.22px">f</text>
<text transform="translate(126.20,351.50) scale(1.823,1)" x="0" y="0" font-size="7.87" fill="#000" style="font-family:'Liberation Serif';font-style:italic;stroke:#000;stroke-width:0.0px">n</text>
<text transform="translate(332.76,350.50) scale(0.868,1)" x="0" y="0" font-size="16.26" fill="#000" style="font-family:'Liberation Serif';stroke:#000;stroke-width:0.45px">(</text>
<text transform="translate(338.05,349.47) scale(1.399,1)" x="0" y="0" font-size="13.33" fill="#000" style="font-family:'Liberation Serif';stroke:#000;stroke-width:0.3px">e</text>
<text transform="translate(346.67,350.55) scale(0.865,1)" x="0" y="0" font-size="16.44" fill="#000" style="font-family:'Liberation Serif';stroke:#000;stroke-width:0.45px">)</text>
<text transform="translate(357.70,349.15) scale(1.488,1)" x="0" y="0" font-size="13.26" fill="#000" style="font-family:'Liberation Serif';font-style:italic;stroke:#000;stroke-width:0.22px">f</text>
<text transform="translate(364.77,351.50) scale(1.913,1)" x="0" y="0" font-size="7.87" fill="#000" style="font-family:'Liberation Serif';font-style:italic;stroke:#000;stroke-width:0.0px">n</text>
<path d="M367.40,339.30 L369.20,339.50 L366.80,343.70 L366.10,343.40 Z" fill="#000"/>
<text transform="translate(572.56,350.50) scale(0.868,1)" x="0" y="0" font-size="16.26" fill="#000" style="font-family:'Liberation Serif';stroke:#000;stroke-width:0.45px">(</text>
<text transform="translate(578.25,349.60) scale(1.377,1)" x="0" y="0" font-size="13.33" fill="#000" style="font-family:'Liberation Serif';stroke:#000;stroke-width:0.3px">f</text>
<text transform="translate(586.02,350.55) scale(0.772,1)" x="0" y="0" font-size="16.44" fill="#000" style="font-family:'Liberation Serif';stroke:#000;stroke-width:0.45px">)</text>
<text transform="translate(597.00,349.15) scale(1.488,1)" x="0" y="0" font-size="13.26" fill="#000" style="font-family:'Liberation Serif';font-style:italic;stroke:#000;stroke-width:0.22px">f</text>
<text transform="translate(603.99,351.50) scale(1.853,1)" x="0" y="0" font-size="7.87" fill="#000" style="font-family:'Liberation Serif';font-style:italic;stroke:#000;stroke-width:0.0px">n</text>
<path d="M607.00,338.60 L608.80,338.80 L606.40,343.00 L605.70,342.70 Z" fill="#000"/>
<path d="M610.00,338.60 L611.80,338.80 L609.40,343.00 L608.70,342.70 Z" fill="#000"/>
</svg>
</div></body></html>
